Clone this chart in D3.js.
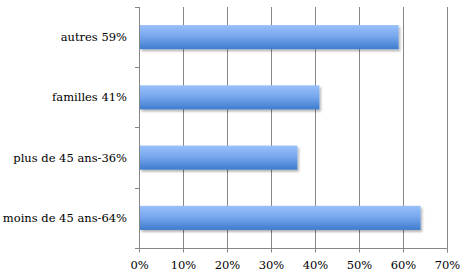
<!DOCTYPE html>
<html lang="fr">
<head>
<meta charset="UTF-8">
<title>Bar chart</title>
<style>
    body { margin: 0; background: #fff; }
    svg { display: block; }
    .label { font-family: "DejaVu Serif", "Liberation Serif", serif; font-size: 11.5px; fill: #000; }
    .grid line { stroke: #868686; stroke-width: 1; }
</style>
</head>
<body>
<svg width="469" height="280"></svg>
<script src="https://cdn.jsdelivr.net/npm/d3@7"></script>
<script>
    // data, top to bottom
    var categories = ["autres 59%", "familles 41%", "plus de 45 ans-36%", "moins de 45 ans-64%"];
    var values = [59, 41, 36, 64];
    var ticks = [0, 10, 20, 30, 40, 50, 60, 70];

    var svg = d3.select("svg"),
        margin = {top: 7, right: 22, bottom: 32, left: 139},
        width = 469 - margin.left - margin.right,
        height = 280 - margin.top - margin.bottom;

    var x = d3.scaleLinear().domain([0, 70]).range([0, width]);
    var y = d3.scaleBand().domain(categories).range([0, height]).paddingInner(0.6).paddingOuter(0.3);

    var defs = svg.append("defs");
    var grad = defs.append("linearGradient")
        .attr("id", "barGrad").attr("x1", 0).attr("y1", 0).attr("x2", 0).attr("y2", 1);
    grad.append("stop").attr("offset", "0%").attr("stop-color", "#98c0fb");
    grad.append("stop").attr("offset", "45%").attr("stop-color", "#79a8ee");
    grad.append("stop").attr("offset", "100%").attr("stop-color", "#3d7ccd");

    var shadow = defs.append("filter").attr("id", "shadow")
        .attr("x", "-5%").attr("y", "-20%").attr("width", "115%").attr("height", "160%");
    shadow.append("feDropShadow").attr("dx", 1.5).attr("dy", 2)
        .attr("stdDeviation", 1.2).attr("flood-color", "#000").attr("flood-opacity", 0.3);

    var g = svg.append("g")
        .attr("transform", "translate(" + margin.left + "," + margin.top + ")");

    // vertical gridlines
    g.append("g").attr("class", "grid")
        .selectAll("line")
        .data(ticks.slice(1))
        .enter().append("line")
        .attr("x1", function(d) { return Math.round(x(d)) + 0.5; })
        .attr("x2", function(d) { return Math.round(x(d)) + 0.5; })
        .attr("y1", 0).attr("y2", height);

    // bottom axis
    var xAxis = d3.axisBottom(x).tickValues(ticks).tickSize(4)
        .tickFormat(function(d) { return d + "%"; });
    var gx = g.append("g")
        .attr("transform", "translate(0," + (height + 0.5) + ")")
        .call(xAxis);
    gx.select(".domain").attr("stroke", "#868686").attr("d", "M0.5,0H" + width + ".5V4");
    gx.selectAll(".tick line").attr("stroke", "#868686");
    gx.selectAll(".tick text").attr("class", "label").attr("dy", "1.05em").attr("y", 8);
    gx.attr("font-family", null).attr("font-size", null);

    // left axis with boundary ticks
    var bounds = categories.map(function(c) { return y(c) - y.step() * y.paddingInner() / 2; });
    bounds.push(height);
    var gy = g.append("g");
    gy.append("line").attr("x1", 0.5).attr("x2", 0.5).attr("y1", 0).attr("y2", height)
        .attr("stroke", "#868686");
    gy.selectAll(".t").data(bounds).enter().append("line")
        .attr("x1", -4).attr("x2", 0.5)
        .attr("y1", function(d) { return Math.round(d) + 0.5; })
        .attr("y2", function(d) { return Math.round(d) + 0.5; })
        .attr("stroke", "#868686");

    g.selectAll(".cat").data(categories).enter().append("text")
        .attr("class", "label")
        .attr("x", -12)
        .attr("y", function(d) { return y(d) + y.bandwidth() / 2; })
        .attr("dy", "0.35em")
        .attr("text-anchor", "end")
        .text(function(d) { return d; });

    // bars
    g.selectAll(".bar").data(values).enter().append("rect")
        .attr("x", 1)
        .attr("y", function(d, i) { return y(categories[i]); })
        .attr("width", function(d) { return x(d) - 1; })
        .attr("height", y.bandwidth())
        .attr("fill", "url(#barGrad)")
        .attr("filter", "url(#shadow)");
</script>
</body>
</html>
